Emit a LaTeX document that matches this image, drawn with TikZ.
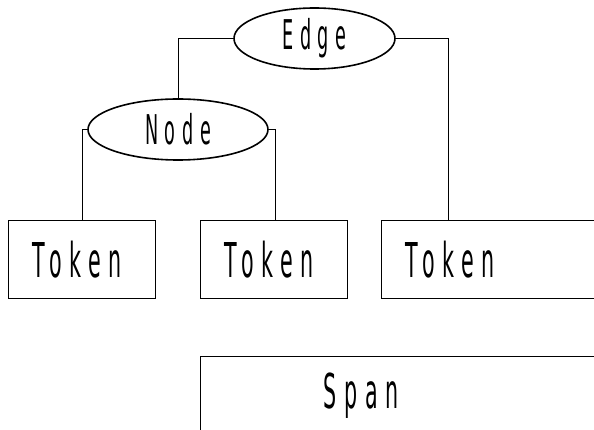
\documentclass[tikz,border=0pt]{standalone}
\usepackage{fontspec}
\usepackage{tikz}
\usetikzlibrary{shapes.geometric}
\newfontfamily\lblfont{DejaVu Sans}[FakeStretch=0.43,LetterSpace=16]

\begin{document}
\begin{tikzpicture}[x=1pt, y=-1pt,
  oval/.style={ellipse, draw, line width=1.6pt, inner sep=0pt,
    minimum height=61pt, font=\lblfont\fontsize{41}{41}\selectfont},
  tokbox/.style={draw, line width=1pt, anchor=north west, minimum height=78pt,
    inner xsep=24pt, inner ysep=0pt, align=left,
    font=\lblfont\fontsize{48}{48}\selectfont},
  link/.style={line width=0.8pt}]
  \useasboundingbox (0, 0) rectangle (594, 430);
  \node[oval, minimum width=161pt] (edge) at (314.5, 38.5) {Edge};
  \node[oval, minimum width=180pt] (node) at (178, 129.5) {Node};
  \node[tokbox, text width=99pt]  (tok1) at (8, 220)   {Token};
  \node[tokbox, text width=99pt]  (tok2) at (200, 220) {Token};
  \node[tokbox, text width=250pt] (tok3) at (381, 220) {Token};
  \node[tokbox, text width=300pt, inner xsep=123pt] (span) at (200, 356) {Span};
  \coordinate (e3) at (448, 220);
  \draw[link] (edge.west) -| (node.north);
  \draw[link] (edge.east) -| (e3);
  \draw[link] (node.west) -| (tok1.north -| 82, 0);
  \draw[link] (node.east) -| (tok2.north -| 275, 0);
\end{tikzpicture}
\end{document}
